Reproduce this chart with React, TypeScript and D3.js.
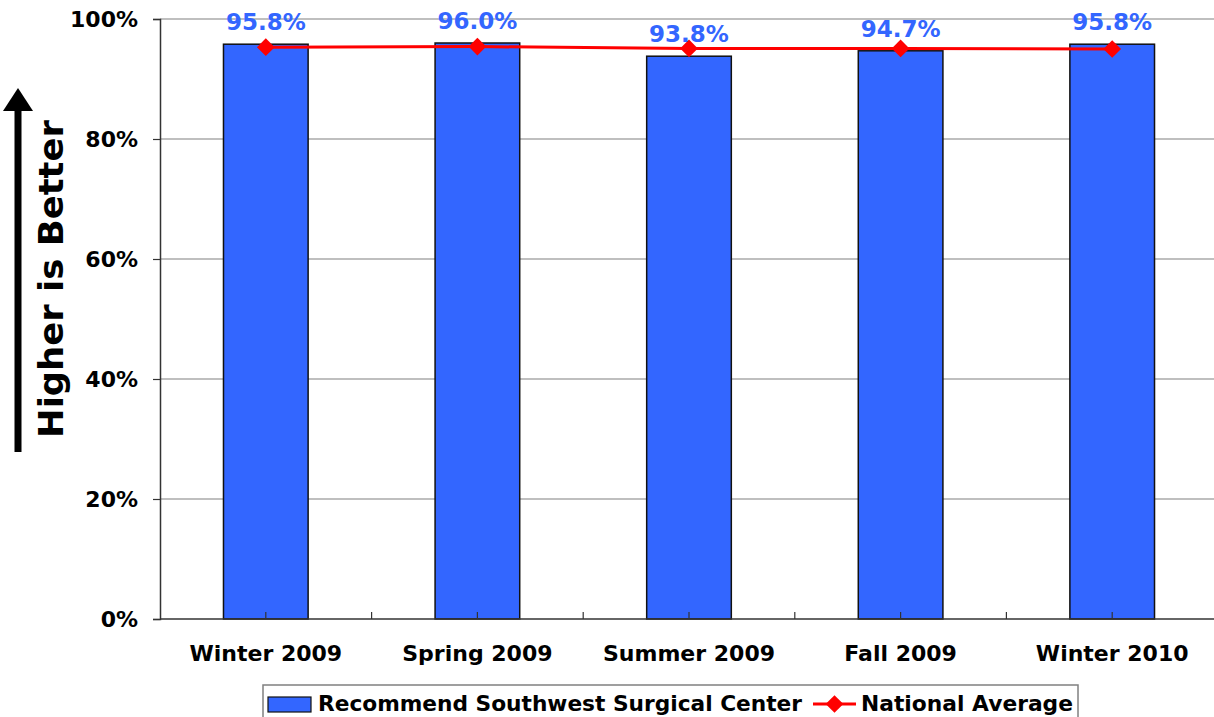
import React from "react";
import * as d3 from "d3";

const categories = ["Winter 2009", "Spring 2009", "Summer 2009", "Fall 2009", "Winter 2010"];
const recommendValues = [0.958, 0.96, 0.938, 0.947, 0.958];
const nationalAverage = [0.953, 0.954, 0.951, 0.951, 0.95];
const yTicks = [0, 0.2, 0.4, 0.6, 0.8, 1];
const seriesNames = ["Recommend Southwest Surgical Center", "National Average"];

const FONT = "'DejaVu Sans', Verdana, sans-serif";

export default function App() {
  const ref = React.useRef<SVGSVGElement | null>(null);

  React.useEffect(() => {
    if (!ref.current) return;
    const svg = d3.select(ref.current);
    svg.selectAll("*").remove();
    const width = 1214;
    const height = 717;
    const plot = { left: 160, right: 1218, top: 19, bottom: 619 };

    const x = d3
      .scaleBand<string>()
      .domain(categories)
      .range([plot.left, plot.right])
      .paddingInner(0.6)
      .paddingOuter(0.3);
    const y = d3.scaleLinear().domain([0, 1]).range([plot.bottom, plot.top]);
    const step = x.step();

    svg.append("rect").attr("width", width).attr("height", height).attr("fill", "#fff");

    // gridlines
    svg
      .append("g")
      .selectAll("line")
      .data(yTicks.filter(t => t > 0))
      .join("line")
      .attr("x1", plot.left)
      .attr("x2", width)
      .attr("y1", d => y(d))
      .attr("y2", d => y(d))
      .attr("stroke", "#808080")
      .attr("stroke-width", 1.2);

    // y axis
    const yAxis = svg
      .append("g")
      .attr("transform", `translate(${plot.left},0)`)
      .call(d3.axisLeft(y).tickValues(yTicks).tickFormat(d3.format(".0%")).tickSize(7).tickPadding(15));
    yAxis.select(".domain").attr("stroke", "#333").attr("stroke-width", 1.5);
    yAxis.selectAll(".tick line").attr("stroke", "#333").attr("stroke-width", 1.2);
    yAxis
      .selectAll("text")
      .attr("font-family", FONT)
      .attr("font-weight", "bold")
      .attr("font-size", 22)
      .attr("fill", "#000");

    // bars
    svg
      .append("g")
      .selectAll("rect")
      .data(categories)
      .join("rect")
      .attr("x", d => x(d)!)
      .attr("width", x.bandwidth())
      .attr("y", (_, i) => y(recommendValues[i]))
      .attr("height", (_, i) => plot.bottom - y(recommendValues[i]))
      .attr("fill", "#3366ff")
      .attr("stroke", "#111")
      .attr("stroke-width", 1.5);

    // x axis
    svg
      .append("line")
      .attr("x1", plot.left)
      .attr("x2", width)
      .attr("y1", plot.bottom)
      .attr("y2", plot.bottom)
      .attr("stroke", "#333")
      .attr("stroke-width", 1.5);
    const tickXs: number[] = [];
    categories.forEach(c => {
      tickXs.push(x(c)! - (step - x.bandwidth()) / 2 + step);
      tickXs.push(x(c)! + x.bandwidth() / 2);
    });
    svg
      .append("g")
      .selectAll("line")
      .data(tickXs)
      .join("line")
      .attr("x1", d => d)
      .attr("x2", d => d)
      .attr("y1", plot.bottom)
      .attr("y2", plot.bottom - 7)
      .attr("stroke", "#333")
      .attr("stroke-width", 1.2);
    svg
      .append("g")
      .selectAll("text")
      .data(categories)
      .join("text")
      .attr("x", d => x(d)! + x.bandwidth() / 2)
      .attr("y", 661)
      .attr("text-anchor", "middle")
      .attr("font-family", FONT)
      .attr("font-weight", "bold")
      .attr("font-size", 22)
      .text(d => d);

    // national average line
    const line = d3
      .line<number>()
      .x((_, i) => x(categories[i])! + x.bandwidth() / 2)
      .y(d => y(d));
    svg
      .append("path")
      .datum(nationalAverage)
      .attr("fill", "none")
      .attr("stroke", "#ff0000")
      .attr("stroke-width", 3)
      .attr("d", line);
    const diamond = d3.symbol().type(d3.symbolDiamond2).size(200);
    svg
      .append("g")
      .selectAll("path")
      .data(nationalAverage)
      .join("path")
      .attr("transform", (d, i) => `translate(${x(categories[i])! + x.bandwidth() / 2},${y(d)})`)
      .attr("d", diamond)
      .attr("fill", "#ff0000");

    // value labels
    svg
      .append("g")
      .selectAll("text")
      .data(recommendValues)
      .join("text")
      .attr("x", (_, i) => x(categories[i])! + x.bandwidth() / 2)
      .attr("y", d => y(d) - 14)
      .attr("text-anchor", "middle")
      .attr("font-family", FONT)
      .attr("font-weight", "bold")
      .attr("font-size", 23)
      .attr("fill", "#3366ff")
      .text(d => d3.format(".1%")(d));

    // "Higher is Better" arrow
    svg
      .append("line")
      .attr("x1", 18)
      .attr("x2", 18)
      .attr("y1", 452)
      .attr("y2", 106)
      .attr("stroke", "#000")
      .attr("stroke-width", 7);
    svg
      .append("path")
      .attr("d", "M18,88 L33,111 L3,111 Z")
      .attr("fill", "#000");
    svg
      .append("text")
      .attr("transform", "translate(63,279) rotate(-90)")
      .attr("text-anchor", "middle")
      .attr("font-family", FONT)
      .attr("font-weight", "bold")
      .attr("font-size", 34)
      .attr("textLength", 318)
      .attr("lengthAdjust", "spacingAndGlyphs")
      .text("Higher is Better");

    // legend
    const lg = svg.append("g");
    lg.append("rect")
      .attr("x", 263)
      .attr("y", 685)
      .attr("width", 815)
      .attr("height", 40)
      .attr("fill", "#fff")
      .attr("stroke", "#808080")
      .attr("stroke-width", 1.5);
    lg.append("rect")
      .attr("x", 268)
      .attr("y", 697)
      .attr("width", 43)
      .attr("height", 15)
      .attr("fill", "#3366ff")
      .attr("stroke", "#111")
      .attr("stroke-width", 1.2);
    lg.append("text")
      .attr("x", 318)
      .attr("y", 711)
      .attr("font-family", FONT)
      .attr("font-weight", "bold")
      .attr("font-size", 22)
      .attr("textLength", 484)
      .attr("lengthAdjust", "spacingAndGlyphs")
      .text(seriesNames[0]);
    lg.append("line")
      .attr("x1", 813)
      .attr("x2", 856)
      .attr("y1", 704)
      .attr("y2", 704)
      .attr("stroke", "#ff0000")
      .attr("stroke-width", 3);
    lg.append("path")
      .attr("transform", "translate(834.5,704)")
      .attr("d", diamond)
      .attr("fill", "#ff0000");
    lg.append("text")
      .attr("x", 861)
      .attr("y", 711)
      .attr("font-family", FONT)
      .attr("font-weight", "bold")
      .attr("font-size", 22)
      .attr("textLength", 212)
      .attr("lengthAdjust", "spacingAndGlyphs")
      .text(seriesNames[1]);
  }, []);

  return (
    <svg
      ref={ref}
      width={1214}
      height={717}
      style={{ position: "absolute", left: 0, top: 0, display: "block" }}
    ></svg>
  );
}
